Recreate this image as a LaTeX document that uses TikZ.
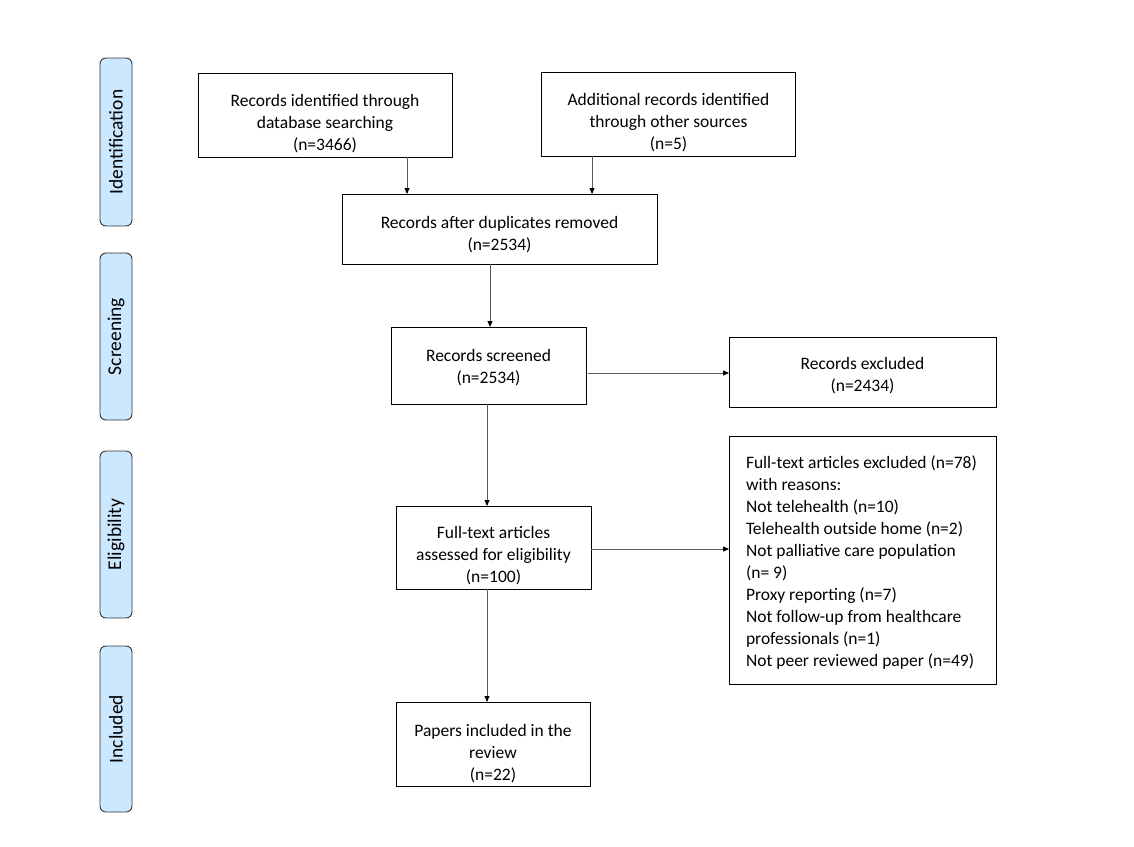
\documentclass[tikz,border=0pt]{standalone}
\usepackage{fontspec}
\setmainfont{Carlito}
\usetikzlibrary{arrows.meta}
\definecolor{phasefill}{RGB}{204,232,255}
\definecolor{linegray}{RGB}{90,90,90}
\begin{document}
\begin{tikzpicture}[x=1pt,y=-1pt,
  every node/.style={inner sep=0pt,outer sep=0pt},
  box/.style={draw=black,line width=0.9pt},
  txt/.style={align=center,font=\fontsize{17.5}{22}\selectfont},
  phase/.style={draw=black!80,fill=phasefill,rounded corners=6pt,line width=0.9pt,minimum width=32pt,font=\fontsize{19.5}{21}\selectfont},
  arr/.style={draw=linegray,line width=0.8pt,-{Triangle[length=6pt,width=5pt,color=black]}}
]
\useasboundingbox (0,0) rectangle (1134,846);
% phase labels
\node[phase,minimum height=168pt] (pid) at (116,142) {\rotatebox{90}{Identification}};
\node[phase,minimum height=167pt] (psc) at (116,336.5) {\rotatebox{90}{Screening}};
\node[phase,minimum height=167pt] (pel) at (116,534.5) {\rotatebox{90}{Eligibility}};
\node[phase,minimum height=166pt] (pin) at (116,729) {\rotatebox{90}{Included}};
% boxes
\node[box,minimum width=254pt,minimum height=84pt] (b1) at (325,115) {};
\node[txt] (t1) at (325,124) {Records identified through\\database searching\\(n=3466)};
\node[box,minimum width=254pt,minimum height=84pt] (b2) at (668.5,114) {};
\node[txt] (t2) at (668.5,123) {Additional records identified\\through other sources\\(n=5)};
\node[box,minimum width=315pt,minimum height=70pt] (b3) at (499.5,229) {};
\node[txt] (t3) at (499.5,235) {Records after duplicates removed\\(n=2534)};
\node[box,minimum width=195pt,minimum height=77pt] (b4) at (488.5,365.5) {};
\node[txt] (t4) at (488.5,367.5) {Records screened\\(n=2534)};
\node[box,minimum width=267pt,minimum height=70pt] (b5) at (862.5,372) {};
\node[txt] (t5) at (862.5,376) {Records excluded\\(n=2434)};
\node[box,minimum width=195pt,minimum height=83pt] (b6) at (493.5,547.5) {};
\node[txt] (t6) at (493.5,556) {Full-text articles\\assessed for eligibility\\(n=100)};
\node[box,minimum width=267pt,minimum height=248pt] (b7) at (862.5,560) {};
\node[txt,align=left,anchor=west] (t7) at (746,562.5) {Full-text articles excluded (n=78)\\with reasons:\\Not telehealth (n=10)\\Telehealth outside home (n=2)\\Not palliative care population\\(n=~9)\\Proxy reporting (n=7)\\Not follow-up from healthcare\\professionals (n=1)\\Not peer reviewed paper (n=49)};
\node[box,minimum width=194pt,minimum height=84pt] (b8) at (493,744) {};
\node[txt] (t8) at (493,754) {Papers included in the\\review\\(n=22)};
% connectors
\draw[arr] (b1.south -| 407,0) -- (b3.north -| 407,0);
\draw[arr] (b2.south -| 592,0) -- (b3.north -| 592,0);
\draw[arr] (b3.south -| 490,0) -- (b4.north -| 490,0);
\draw[arr] (b4.south -| 487,0) -- (b6.north -| 487,0);
\draw[arr] (b6.south -| 487,0) -- (b8.north -| 487,0);
\draw[arr] ([xshift=2pt]b4.east |- 0,373) -- (b5.west |- 0,373);
\draw[arr] (b6.east |- 0,549) -- (b7.west |- 0,549);
\end{tikzpicture}
\end{document}
